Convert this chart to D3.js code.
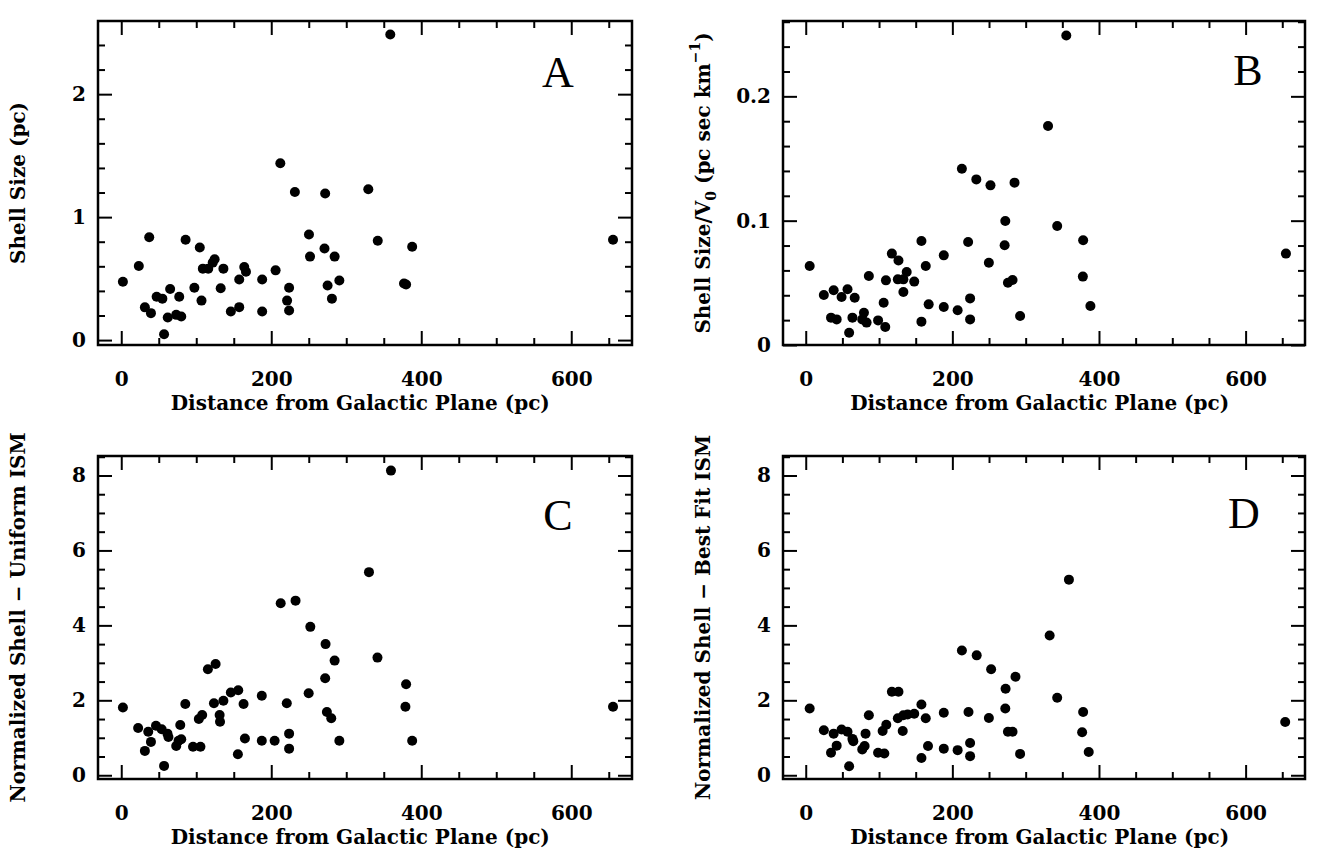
<!DOCTYPE html>
<html>
<head>
<meta charset="utf-8">
<script src="https://cdn.jsdelivr.net/npm/d3@7"></script>
<style>
  html, body { margin: 0; padding: 0; background: #fff; }
  svg text { fill: #000; }
</style>
</head>
<body>
<svg id="chart" width="1326" height="848"></svg>
<script>
// ---------------- DATA ----------------
const distA = [2.2, 23.4, 31.5, 37.3, 39.6, 47.2, 54.8, 57.1, 62.0, 65.2, 73.3, 77.3, 80.0, 85.8, 97.5, 104.7, 107.0, 108.8, 116.0, 122.0, 124.5, 132.6, 136.2, 146.1, 157.3, 157.3, 164.0, 166.3, 187.9, 187.9, 205.8, 212.1, 221.1, 223.8, 223.8, 231.5, 250.3, 251.7, 271.0, 271.9, 275.1, 280.9, 284.5, 290.8, 329.4, 342.0, 358.7, 377.0, 379.8, 387.9, 655.7];
const shellSizeA = [0.474, 0.603, 0.266, 0.836, 0.219, 0.353, 0.337, 0.047, 0.184, 0.416, 0.205, 0.353, 0.192, 0.816, 0.425, 0.753, 0.321, 0.581, 0.581, 0.63, 0.658, 0.422, 0.581, 0.233, 0.268, 0.493, 0.595, 0.556, 0.493, 0.233, 0.567, 1.438, 0.321, 0.425, 0.241, 1.205, 0.858, 0.679, 0.745, 1.192, 0.444, 0.337, 0.679, 0.485, 1.227, 0.808, 2.485, 0.46, 0.452, 0.759, 0.816];

const distB = [5.4, 24.7, 34.5, 38.1, 42.2, 48.9, 57.0, 59.2, 63.7, 66.8, 77.1, 79.4, 83.0, 86.1, 98.7, 106.3, 108.5, 109.4, 117.5, 125.6, 126.5, 133.2, 133.2, 137.7, 148.0, 157.8, 157.8, 163.7, 167.7, 188.3, 188.3, 207.2, 213.0, 221.5, 224.2, 224.2, 232.7, 249.8, 252.0, 271.3, 272.2, 275.8, 282.1, 284.8, 292.4, 330.5, 343.0, 355.4, 378.0, 378.4, 388.3, 655.0];
const shellOverV0B = [0.0635, 0.0402, 0.022, 0.044, 0.0206, 0.0386, 0.0448, 0.0099, 0.022, 0.038, 0.0206, 0.026, 0.018, 0.0555, 0.0198, 0.034, 0.0145, 0.052, 0.0735, 0.0528, 0.068, 0.0528, 0.0426, 0.0587, 0.051, 0.0836, 0.0188, 0.0635, 0.0327, 0.0721, 0.0306, 0.0279, 0.1418, 0.0828, 0.0375, 0.0206, 0.1332, 0.0662, 0.1284, 0.0802, 0.0997, 0.0501, 0.0523, 0.1306, 0.0233, 0.1761, 0.0957, 0.249, 0.055, 0.0842, 0.0314, 0.0735];

const distC = [2.2, 22.5, 31.5, 36.0, 39.6, 46.3, 53.9, 57.1, 61.6, 62.9, 73.3, 76.4, 80.0, 78.7, 85.4, 95.7, 105.6, 103.4, 107.9, 115.5, 125.8, 123.6, 131.2, 131.7, 136.2, 146.1, 156.0, 155.5, 163.1, 164.9, 187.4, 187.4, 204.5, 212.6, 220.7, 223.8, 223.8, 232.4, 252.1, 249.9, 272.4, 271.9, 274.2, 280.0, 284.5, 290.8, 330.3, 341.6, 359.6, 379.8, 378.9, 387.9, 655.7];
const normUniformC = [1.81, 1.26, 0.65, 1.16, 0.89, 1.32, 1.23, 0.25, 1.11, 1.02, 0.78, 0.92, 0.96, 1.34, 1.90, 0.76, 0.76, 1.50, 1.61, 2.83, 2.97, 1.92, 1.61, 1.43, 1.99, 2.21, 2.27, 0.56, 1.90, 0.98, 2.12, 0.92, 0.92, 4.59, 1.92, 1.11, 0.71, 4.66, 3.96, 2.19, 3.50, 2.59, 1.69, 1.52, 3.06, 0.92, 5.42, 3.14, 8.13, 2.43, 1.83, 0.92, 1.83];

const distD = [5.4, 24.7, 34.5, 38.1, 42.2, 48.9, 57.0, 59.2, 63.7, 64.9, 77.1, 80.3, 81.6, 86.1, 98.7, 107.2, 104.9, 109.9, 117.5, 126.5, 125.6, 133.2, 132.3, 139.0, 148.0, 157.8, 163.7, 157.8, 166.8, 188.3, 188.3, 207.2, 213.0, 222.0, 224.2, 224.2, 233.2, 252.9, 249.8, 272.6, 272.2, 286.1, 275.8, 282.1, 292.4, 332.7, 343.0, 359.0, 378.4, 377.0, 386.0, 654.0];
const normBestFitD = [1.78, 1.20, 0.60, 1.11, 0.79, 1.22, 1.16, 0.24, 0.97, 0.91, 0.69, 0.78, 1.11, 1.60, 0.60, 0.58, 1.18, 1.35, 2.23, 2.23, 1.52, 1.60, 1.18, 1.62, 1.64, 1.89, 1.52, 0.46, 0.78, 1.67, 0.71, 0.67, 3.33, 1.69, 0.86, 0.51, 3.20, 2.83, 1.53, 2.31, 1.78, 2.63, 1.16, 1.16, 0.57, 3.73, 2.07, 5.22, 1.69, 1.15, 0.62, 1.42];

const xTickLabels = [0, 200, 400, 600];
const yTickLabelsA = [0, 1, 2];
const yTickLabelsB = [0, 0.1, 0.2];
const yTickLabelsCD = [0, 2, 4, 6, 8];
const xTitle = "Distance from Galactic Plane (pc)";
const panelTags = ["A", "B", "C", "D"];

// ---------------- LAYOUT ----------------
const svg = d3.select("#chart");
const FONT = "'DejaVu Serif', serif";
const xDomain = [-31, 681];

const panels = [
  { tag: panelTags[0], xs: distA, ys: shellSizeA, left: 98, right: 632, top: 21, bottom: 345,
    yDomain: [-0.04, 2.595], yMajor: yTickLabelsA, yMinorStep: 0.2, yFmt: d3.format("d"),
    title: [{t: "Shell Size (pc)"}], titleX: 25, tagX: 558, tagY: 87 },
  { tag: panelTags[1], xs: distB, ys: shellOverV0B, left: 783, right: 1305, top: 21, bottom: 345,
    yDomain: [0, 0.2606], yMajor: yTickLabelsB, yMinorStep: 0.02, yFmt: d => d === 0 ? "0" : d3.format(".1f")(d),
    title: [{t: "Shell Size/V"}, {t: "0", sub: true}, {t: " (pc sec km"}, {t: "\u22121", sup: true}, {t: ")"}],
    titleX: 710, tagX: 1248, tagY: 85 },
  { tag: panelTags[2], xs: distC, ys: normUniformC, left: 98, right: 632, top: 456, bottom: 779,
    yDomain: [-0.1, 8.52], yMajor: yTickLabelsCD, yMinorStep: 0.5, yFmt: d3.format("d"),
    title: [{t: "Normalized Shell \u2212 Uniform ISM"}], titleX: 25, tagX: 558, tagY: 530 },
  { tag: panelTags[3], xs: distD, ys: normBestFitD, left: 783, right: 1305, top: 456, bottom: 779,
    yDomain: [-0.1, 8.52], yMajor: yTickLabelsCD, yMinorStep: 0.5, yFmt: d3.format("d"),
    title: [{t: "Normalized Shell \u2212 Best Fit ISM"}], titleX: 710, tagX: 1244, tagY: 528 }
];

const MAJ = 14, MIN = 7;
const FS = 20;

panels.forEach(p => {
  const x = d3.scaleLinear().domain(xDomain).range([p.left, p.right]);
  const y = d3.scaleLinear().domain(p.yDomain).range([p.bottom, p.top]);
  const g = svg.append("g");

  const xMinor = d3.range(0, xDomain[1], 50).filter(v => xTickLabels.indexOf(v) < 0);
  const yMinor = d3.range(0, p.yDomain[1] + 1e-9, p.yMinorStep)
      .map(v => +v.toFixed(4))
      .filter(v => !p.yMajor.some(m => Math.abs(m - v) < 1e-6));

  function styleAxis(sel) {
    sel.select(".domain").remove();
    sel.selectAll(".tick line").attr("stroke", "#000").attr("stroke-width", 2);
    sel.selectAll("text").attr("font-family", FONT).attr("font-weight", "bold")
       .attr("font-size", FS).attr("fill", "#000");
  }

  // bottom: major (with labels) + minor
  g.append("g").attr("transform", `translate(0,${p.bottom})`)
    .call(d3.axisBottom(x).tickValues(xTickLabels).tickSize(-MAJ).tickFormat(d3.format("d")))
    .call(styleAxis)
    .call(s => s.selectAll("text").attr("y", 41).attr("dy", 0));
  g.append("g").attr("transform", `translate(0,${p.bottom})`)
    .call(d3.axisBottom(x).tickValues(xMinor).tickSize(-MIN).tickFormat(""))
    .call(styleAxis);
  // top
  g.append("g").attr("transform", `translate(0,${p.top})`)
    .call(d3.axisTop(x).tickValues(xTickLabels).tickSize(-MAJ).tickFormat(""))
    .call(styleAxis);
  g.append("g").attr("transform", `translate(0,${p.top})`)
    .call(d3.axisTop(x).tickValues(xMinor).tickSize(-MIN).tickFormat(""))
    .call(styleAxis);
  // left
  g.append("g").attr("transform", `translate(${p.left},0)`)
    .call(d3.axisLeft(y).tickValues(p.yMajor).tickSize(-MAJ).tickPadding(12).tickFormat(p.yFmt))
    .call(styleAxis);
  g.append("g").attr("transform", `translate(${p.left},0)`)
    .call(d3.axisLeft(y).tickValues(yMinor).tickSize(-MIN).tickFormat(""))
    .call(styleAxis);
  // right
  g.append("g").attr("transform", `translate(${p.right},0)`)
    .call(d3.axisRight(y).tickValues(p.yMajor).tickSize(-MAJ).tickFormat(""))
    .call(styleAxis);
  g.append("g").attr("transform", `translate(${p.right},0)`)
    .call(d3.axisRight(y).tickValues(yMinor).tickSize(-MIN).tickFormat(""))
    .call(styleAxis);

  // frame
  g.append("rect").attr("x", p.left).attr("y", p.top)
    .attr("width", p.right - p.left).attr("height", p.bottom - p.top)
    .attr("fill", "none").attr("stroke", "#000").attr("stroke-width", 2.5);

  // points
  g.append("g").selectAll("circle")
    .data(p.xs.map((v, i) => [v, p.ys[i]]))
    .join("circle")
    .attr("cx", d => x(d[0])).attr("cy", d => y(d[1])).attr("r", 5).attr("fill", "#000");

  // x title
  g.append("text").attr("x", (x(0) + x(600)) / 2 + 14).attr("y", p.bottom + 65)
    .attr("text-anchor", "middle").attr("font-family", FONT).attr("font-weight", "bold")
    .attr("font-size", FS).text(xTitle);

  // y title
  const cy = (p.top + p.bottom) / 2;
  const yt = g.append("text").attr("transform", `translate(${p.titleX},${cy}) rotate(-90)`)
    .attr("text-anchor", "middle").attr("font-family", FONT).attr("font-weight", "bold")
    .attr("font-size", FS);
  p.title.forEach(part => {
    const ts = yt.append("tspan").text(part.t);
    if (part.sub) ts.attr("dy", 6).attr("font-size", 14);
    if (part.sup) ts.attr("dy", -10).attr("font-size", 14);
  });
  const tsp = yt.selectAll("tspan").nodes();
  p.title.forEach((part, i) => {
    if ((part.sub || part.sup) && tsp[i + 1]) {
      d3.select(tsp[i + 1]).attr("dy", part.sub ? -6 : 10);
    }
  });

  // panel tag
  g.append("text").attr("x", p.tagX).attr("y", p.tagY).attr("text-anchor", "middle")
    .attr("font-family", "'Liberation Serif', serif").attr("font-size", 44).text(p.tag);
});
</script>
</body>
</html>
